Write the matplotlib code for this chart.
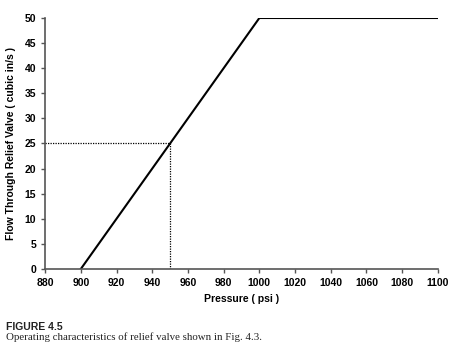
import matplotlib
matplotlib.use('Agg')
import matplotlib.pyplot as plt

# relief valve characteristic
pressure = [900, 1000, 1100]
flow = [0, 50, 50]

# operating point guide
guide_p = [880, 950, 950]
guide_q = [25, 25, 0]

x_ticks = list(range(880, 1101, 20))
y_ticks = list(range(0, 51, 5))

plt.rcParams['font.family'] = ['Liberation Sans', 'DejaVu Sans']

fig = plt.figure(figsize=(4.6, 3.53), dpi=100)
ax = fig.add_axes([0.098, 0.238, 0.854, 0.711])

ax.plot(pressure, flow, color='black', lw=1.5)
ax.plot(guide_p, guide_q, color='black', lw=0.9, ls=(0, (1, 1)))

ax.set_xlim(880, 1100)
ax.set_ylim(0, 50)
ax.set_xticks(x_ticks)
ax.set_yticks(y_ticks)
ax.spines['top'].set_visible(False)
ax.spines['right'].set_visible(False)
ax.spines['left'].set_color('#555555')
ax.spines['bottom'].set_color('#555555')
ax.spines['left'].set_linewidth(1.2)
ax.spines['bottom'].set_linewidth(1.2)
ax.tick_params(direction='out', length=3, width=1, colors='#555555',
               labelcolor='black', labelsize=7.5)
for lbl in ax.get_xticklabels() + ax.get_yticklabels():
    lbl.set_fontweight('bold')

ax.set_xlabel('Pressure ( psi )', fontsize=7.5, fontweight='bold', labelpad=4)
ax.set_ylabel('Flow Through Relief Valve ( cubic in/s )', fontsize=7.5,
              fontweight='bold', labelpad=6)

fig.text(0.014, 0.065, 'FIGURE 4.5', fontsize=7.5, fontweight='bold', va='baseline',
         family=['Liberation Sans', 'DejaVu Sans'], color='#222222')
fig.text(0.014, 0.037, 'Operating characteristics of relief valve shown in Fig. 4.3.',
         fontsize=7.8, va='baseline',
         family=['Liberation Serif', 'DejaVu Serif'], color='#222222')

fig.savefig('out.png', dpi=100)
